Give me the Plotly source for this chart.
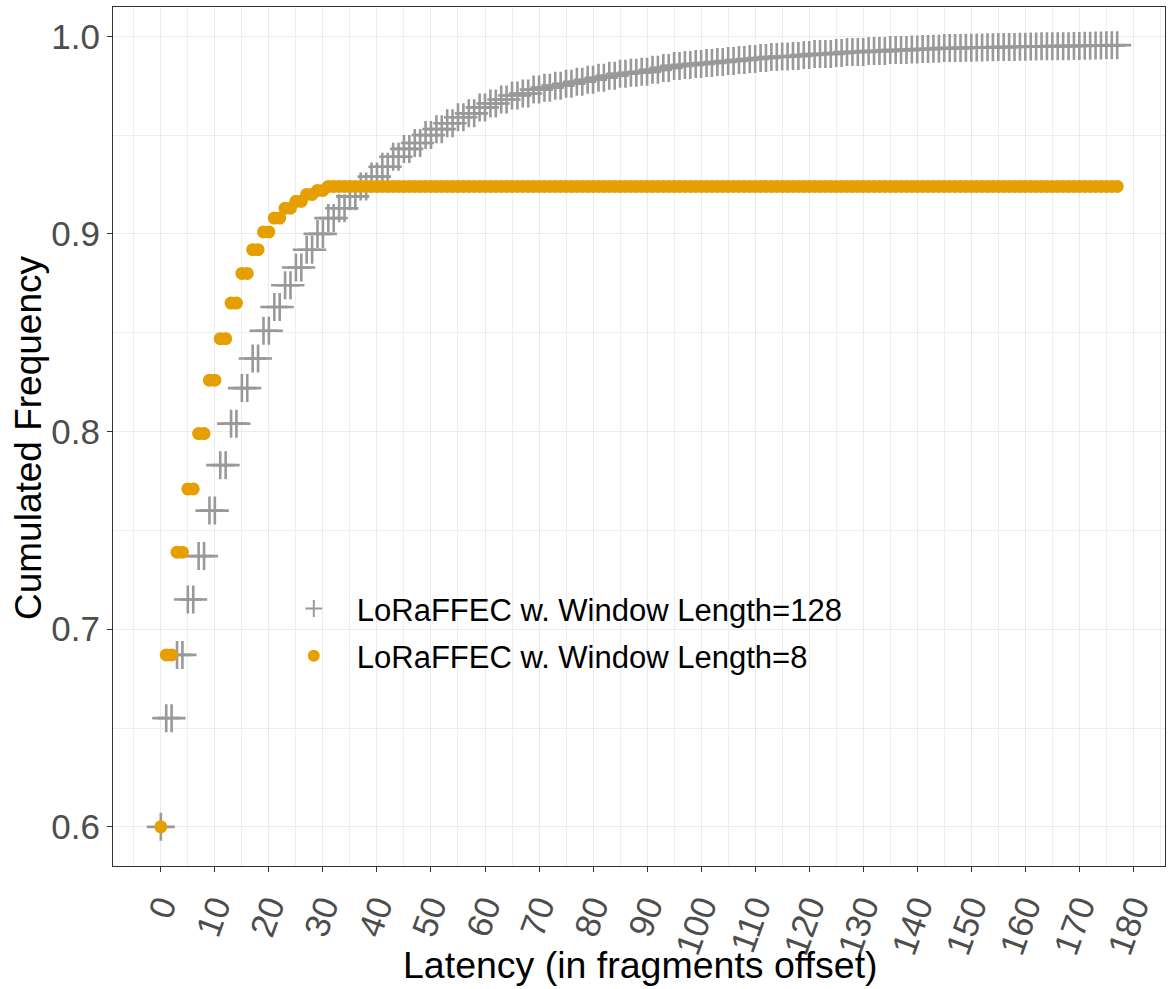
import plotly.graph_objects as go

# ---- data ----
latency = list(range(0, 178))

# Window Length = 128 (gray): value at 0, then one level per pair of offsets (1-2, 3-4, ...)
gray_first = 0.600
gray_levels = [
    0.655, 0.687, 0.715, 0.737, 0.760, 0.783, 0.804, 0.822, 0.837, 0.851,
    0.863, 0.874, 0.883, 0.892, 0.900, 0.908, 0.913, 0.919, 0.924, 0.929,
    0.934, 0.939, 0.943, 0.946, 0.950, 0.953, 0.956, 0.959, 0.961, 0.964,
    0.966, 0.968, 0.970, 0.971, 0.973, 0.974, 0.975, 0.976, 0.977, 0.978,
    0.979, 0.980, 0.981, 0.9815, 0.982, 0.983, 0.984, 0.985, 0.9855, 0.986,
    0.9865, 0.987, 0.9875, 0.988, 0.9885, 0.989, 0.9895, 0.9898, 0.990, 0.9905,
    0.991, 0.991, 0.9915, 0.992, 0.992, 0.9925, 0.9925, 0.993, 0.993, 0.9933,
    0.9935, 0.9937, 0.994, 0.994, 0.9942, 0.9943, 0.9944, 0.9945, 0.9946, 0.9947,
    0.9948, 0.9949, 0.995, 0.995, 0.9951, 0.9952, 0.9953, 0.9954, 0.9955,
]

# Window Length = 8 (orange): value at 0, then one level per pair of offsets, then plateau
orange_first = 0.600
orange_levels = [
    0.687, 0.739, 0.771, 0.799, 0.826, 0.847, 0.865, 0.880, 0.892, 0.901,
    0.908, 0.913, 0.9165, 0.920, 0.922,
]
orange_plateau = 0.924

series_names = ["LoRaFFEC w. Window Length=128", "LoRaFFEC w. Window Length=8"]
x_ticks = list(range(0, 181, 10))
y_ticks = [0.6, 0.7, 0.8, 0.9, 1.0]
x_title = "Latency (in fragments offset)"
y_title = "Cumulated Frequency"

# ---- assemble per-offset values ----
gray_y = [gray_first] + [v for v in gray_levels for _ in range(2)]
gray_y = gray_y[:len(latency)]
orange_y = [orange_first] + [v for v in orange_levels for _ in range(2)]
orange_y = orange_y + [orange_plateau] * (len(latency) - len(orange_y))

FONT = "Liberation Sans, Arial, Helvetica, sans-serif"
GRAY = "#999999"
ORANGE = "#E69F00"

fig = go.Figure()
fig.add_trace(go.Scatter(
    x=latency, y=gray_y, mode="markers", name=series_names[0],
    legendgroup="g1",
    marker=dict(symbol="cross-thin", size=20, color=GRAY,
                line=dict(color=GRAY, width=2.6)),
))
fig.add_trace(go.Scatter(
    x=latency, y=orange_y, mode="markers", name=series_names[1],
    legendgroup="g2",
    marker=dict(symbol="circle", size=13, color=ORANGE, line=dict(width=0)),
))

axis_common = dict(
    showline=True, linecolor="#333333", linewidth=1.2, mirror=True,
    ticks="outside", ticklen=5, tickwidth=1.2, tickcolor="#333333",
    showgrid=True, gridcolor="#EBEBEB", gridwidth=1.4,
    zeroline=False, automargin=False,
    tickfont=dict(family=FONT, size=35, color="#4D4D4D"),
)

fig.update_xaxes(
    **axis_common,
    range=[-8.85, 185.85],
    tickmode="array", tickvals=x_ticks, ticktext=[str(t) for t in x_ticks],
    tickangle=-70,
    minor=dict(tickmode="linear", tick0=0, dtick=5, showgrid=True,
               gridcolor="#EEEEEE", gridwidth=1.2, ticks=""),
)
fig.update_yaxes(
    **axis_common,
    range=[0.5802, 1.0148],
    tickmode="array", tickvals=y_ticks, ticktext=["0.6", "0.7", "0.8", "0.9", "1.0"],
    minor=dict(tickmode="linear", tick0=0.6, dtick=0.05, showgrid=True,
               gridcolor="#EEEEEE", gridwidth=1.2, ticks=""),
)

fig.add_annotation(
    text=x_title, xref="paper", yref="paper", x=0.501, y=-0.1152,
    xanchor="center", yanchor="middle", showarrow=False,
    font=dict(family=FONT, size=37.5, color="black"),
)
fig.add_annotation(
    text=y_title, xref="paper", yref="paper", x=-0.0808, y=0.4994,
    xanchor="center", yanchor="middle", showarrow=False, textangle=-90,
    font=dict(family=FONT, size=37, color="black"),
)

fig.update_layout(
    width=1172, height=989,
    margin=dict(l=113, r=7, t=7, b=123),
    plot_bgcolor="white", paper_bgcolor="white",
    font=dict(family=FONT),
    showlegend=True,
    legend=dict(
        x=0.150, y=0.272, xanchor="left", yanchor="middle",
        bgcolor="rgba(0,0,0,0)", borderwidth=0,
        font=dict(family=FONT, size=31, color="black"),
        traceorder="grouped", tracegroupgap=4,
        itemsizing="constant", itemwidth=76,
    ),
)

fig.write_html(
    "out.html",
    config={"displayModeBar": False},
    post_script="document.body.style.margin='0';document.body.style.overflow='hidden';",
)
